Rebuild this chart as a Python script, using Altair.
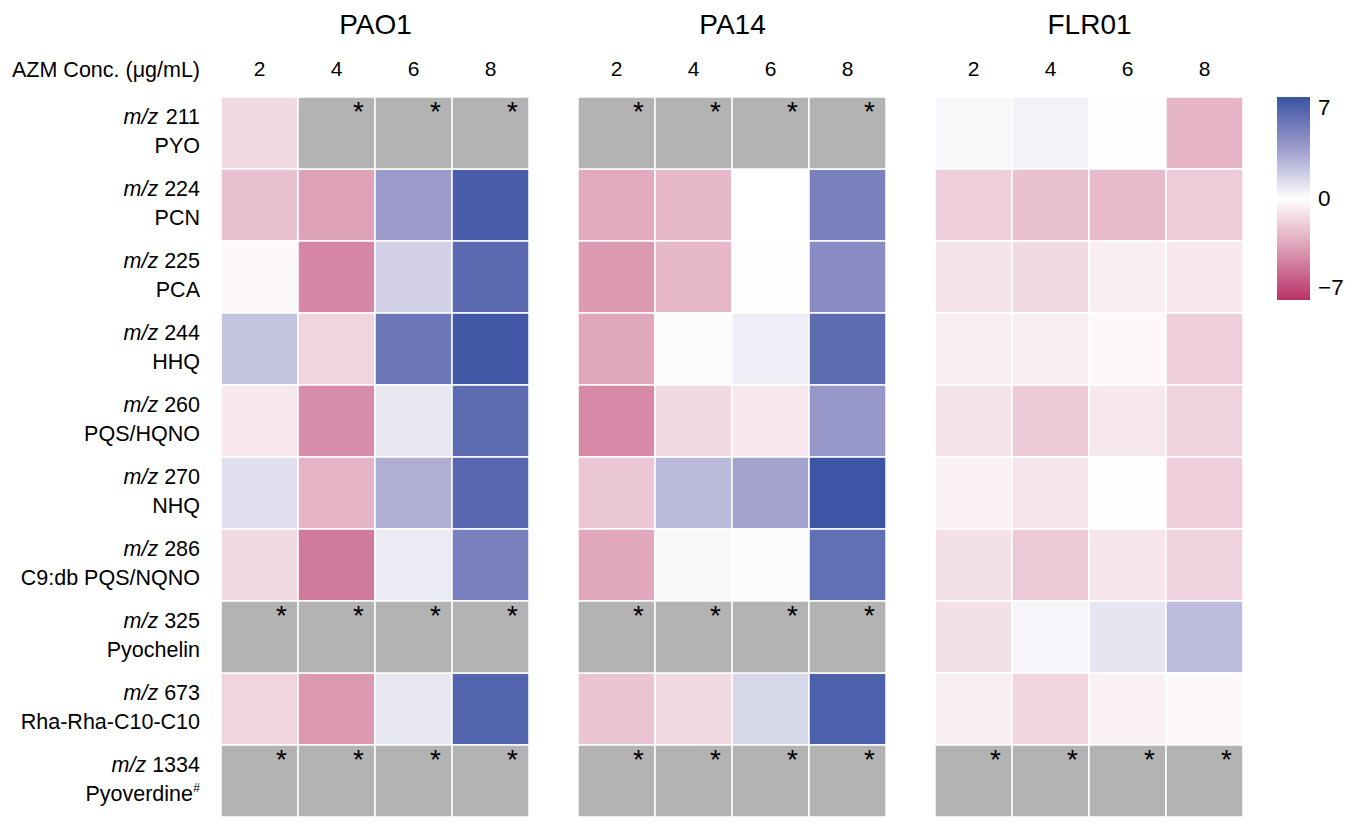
import altair as alt
import pandas as pd

FONT = "Liberation Sans"

strains = ["PAO1", "PA14", "FLR01"]
concs = ["2", "4", "6", "8"]
conc_axis_label = "AZM Conc. (μg/mL)"
mz_values = ["211", "224", "225", "244", "260", "270", "286", "325", "673", "1334"]
compound_names = ["PYO", "PCN", "PCA", "HHQ", "PQS/HQNO", "NHQ", "C9:db PQS/NQNO",
                  "Pyochelin", "Rha-Rha-C10-C10", "Pyoverdine"]
superscripts = ["", "", "", "", "", "", "", "", "", "#"]

# log2 fold change values (None = not detected, shown grey with *)
pao1 = [
    [-1.3, None, None, None],
    [-2.2, -3.3, 3.5, 6.5],
    [-0.2, -4.2, 1.6, 5.8],
    [2.0, -1.5, 5.2, 6.7],
    [-0.8, -4.0, 0.8, 5.7],
    [1.1, -2.6, 2.8, 6.0],
    [-1.3, -4.6, 0.7, 4.8],
    [None, None, None, None],
    [-1.5, -3.6, 0.8, 6.1],
    [None, None, None, None],
]
pa14 = [
    [None, None, None, None],
    [-3.0, -2.5, 0.0, 4.8],
    [-3.6, -2.5, -0.1, 4.2],
    [-3.1, 0.1, 0.6, 5.7],
    [-4.1, -1.3, -0.8, 3.7],
    [-2.0, 2.4, 3.2, 6.9],
    [-3.1, 0.2, 0.1, 5.6],
    [None, None, None, None],
    [-2.1, -1.3, 1.4, 6.3],
    [None, None, None, None],
]
flr01 = [
    [0.25, 0.45, -0.05, -2.6],
    [-1.7, -2.2, -2.4, -1.8],
    [-1.0, -1.3, -0.6, -0.8],
    [-0.6, -0.6, -0.2, -1.7],
    [-1.0, -1.9, -0.8, -1.6],
    [-0.5, -0.9, -0.05, -1.7],
    [-1.1, -1.9, -0.9, -1.6],
    [-1.1, 0.35, 0.9, 2.3],
    [-0.6, -1.5, -0.5, -0.2],
    [None, None, None, None],
]

rows = []
for strain, mat in zip(strains, [pao1, pa14, flr01]):
    for i, mz in enumerate(mz_values):
        for j, c in enumerate(concs):
            rows.append({"strain": strain, "mz": mz, "conc": c, "value": mat[i][j]})
df = pd.DataFrame(rows)

labels_df = pd.DataFrame({"mz": mz_values, "name": compound_names, "sup": superscripts})

color_scale = alt.Scale(
    domain=[-7, -3.5, 0, 3.5, 7],
    range=["#b83268", "#dc9cb4", "#ffffff", "#9c9acb", "#3a53a4"],
    interpolate="rgb",
)

HW, HH = 308, 720
LW = 192
LFS = 21.5

yenc = alt.Y("mz:N", sort=mz_values, axis=None,
             scale=alt.Scale(domain=mz_values, paddingInner=0, paddingOuter=0))


def heat(strain):
    base = alt.Chart(df).transform_filter(alt.datum.strain == strain)
    xenc = alt.X("conc:O", sort=concs,
                 scale=alt.Scale(domain=concs, paddingInner=0, paddingOuter=0),
                 axis=alt.Axis(orient="top", title=strain, titleFontSize=28,
                               titleFontWeight="normal", titleFont=FONT, titleColor="#000",
                               titlePadding=19, labelFontSize=21, labelFont=FONT,
                               labelColor="#000", labelAngle=0, ticks=False, domain=False,
                               labelPadding=18))
    legend = alt.Legend(title=None, orient="none", legendX=1269, legendY=0,
                        direction="vertical", gradientLength=203, gradientThickness=33,
                        values=[-7, 0, 7], labelFontSize=22.5, labelFont=FONT,
                        labelColor="#000", labelOffset=8, gradientStrokeWidth=0)
    valid = base.transform_filter("isValid(datum.value)").mark_rect(
        stroke="white", strokeWidth=1.5).encode(
        x=xenc, y=yenc,
        color=alt.Color("value:Q", scale=color_scale, legend=legend))
    na = base.transform_filter("!isValid(datum.value)")
    grey = na.mark_rect(stroke="white", strokeWidth=1.5, color="#b3b3b3").encode(x=xenc, y=yenc)
    star = na.mark_text(text="*", fontSize=28, font=FONT, color="#000", dx=22, dy=-20,
                        align="center", baseline="middle").encode(x=xenc, y=yenc)
    return alt.layer(valid, grey, star).properties(width=HW, height=HH)


lab = alt.Chart(labels_df).transform_calculate(
    mzx=f"{LW} - length(datum.mz) * {0.556 * LFS} - {0.278 * LFS}",
    namex=f"datum.sup ? {LW} - 7 : {LW}",
)
t_it = lab.mark_text(align="right", baseline="alphabetic", fontStyle="italic", fontSize=LFS,
                     font=FONT, color="#000", dy=-9).encode(
    y=yenc, x=alt.X("mzx:Q", scale=None), text=alt.value("m/z"))
t_num = lab.mark_text(align="right", baseline="alphabetic", fontSize=LFS, font=FONT,
                      color="#000", dy=-9).encode(y=yenc, x=alt.value(LW), text="mz:N")
t_name = lab.mark_text(align="right", baseline="alphabetic", fontSize=LFS, font=FONT,
                       color="#000", dy=20).encode(
    y=yenc, x=alt.X("namex:Q", scale=None), text="name:N")
t_sup = lab.transform_filter("datum.sup != ''").mark_text(
    align="right", baseline="alphabetic", fontSize=12, font=FONT, color="#000",
    dy=11).encode(y=yenc, x=alt.value(LW), text="sup:N")
t_azm = alt.Chart(pd.DataFrame({"t": [conc_axis_label]})).mark_text(
    align="right", baseline="alphabetic", fontSize=21.5, font=FONT, color="#000").encode(
    x=alt.value(LW), y=alt.value(-20), text="t:N")

labels = alt.layer(t_it, t_num, t_name, t_sup, t_azm).properties(width=LW, height=HH)

heats = alt.hconcat(heat("PAO1"), heat("PA14"), heat("FLR01"), spacing=47)

chart = alt.hconcat(labels, heats, spacing=20).properties(
    padding={"top": 3, "left": 0, "right": 0, "bottom": 0}).configure_view(
    stroke=None).configure_concat(spacing=47)

chart.save("out.html", embed_options={"renderer": "svg", "actions": False})
